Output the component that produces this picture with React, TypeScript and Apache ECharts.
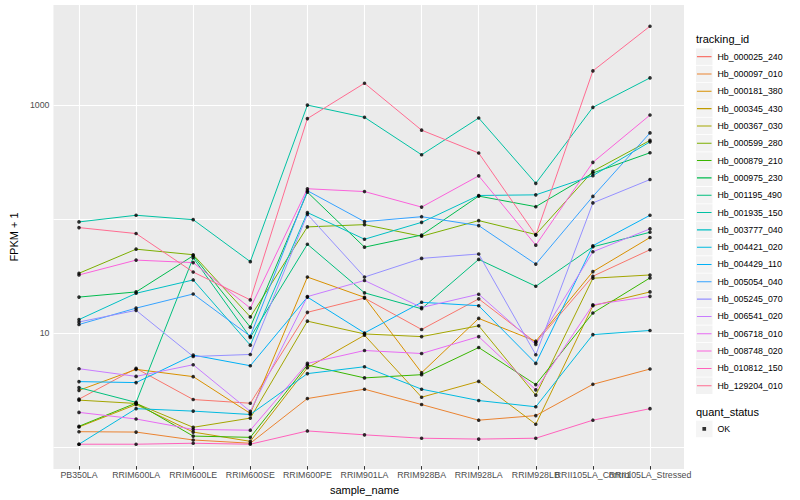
import React, { useEffect, useRef } from 'react';
import * as echarts from 'echarts';

const categories = [
  'PB350LA', 'RRIM600LA', 'RRIM600LE', 'RRIM600SE', 'RRIM600PE', 'RRIM901LA',
  'RRIM928BA', 'RRIM928LA', 'RRIM928LB', 'RRII105LA_Control', 'RRII105LA_Stressed',
];

const seriesIds = [
  'Hb_000025_240', 'Hb_000097_010', 'Hb_000181_380', 'Hb_000345_430', 'Hb_000367_030',
  'Hb_000599_280', 'Hb_000879_210', 'Hb_000975_230', 'Hb_001195_490', 'Hb_001935_150',
  'Hb_003777_040', 'Hb_004421_020', 'Hb_004429_110', 'Hb_005054_040', 'Hb_005245_070',
  'Hb_006541_020', 'Hb_006718_010', 'Hb_008748_020', 'Hb_010812_150', 'Hb_129204_010',
];

const palette = [
  '#F8766D', '#EA8331', '#D89000', '#C09B00', '#A3A500',
  '#7CAE00', '#39B600', '#00BB4E', '#00BF7D', '#00C1A3',
  '#00BFC4', '#00BAE0', '#00B0F6', '#35A2FF', '#9590FF',
  '#C77CFF', '#E76BF3', '#FA62DB', '#FF62BC', '#FF6C91',
];

// FPKM + 1 values, one array per tracking_id, in category order
const hb_000025_240 = [2.5, 4.67, 2.48, 2.3, 14.6, 19.5, 10.3, 19.2, 7.9, 30.4, 52.1];
const hb_000097_010 = [1.29, 1.28, 1.09, 1.02, 2.53, 3.06, 2.24, 1.63, 1.79, 3.38, 4.61];
const hb_000181_380 = [2.99, 4.58, 3.95, 1.87, 29.9, 19.8, 4.28, 12.9, 8.12, 33.4, 66.8];
const hb_000345_430 = [1.42, 2.24, 1.28, 1.06, 4.73, 9.17, 2.6, 3.59, 1.5, 16.7, 22.1];
const hb_000367_030 = [2.45, 2.29, 1.41, 1.7, 12.2, 9.41, 8.91, 11.1, 2.71, 29.2, 31.2];
const hb_000599_280 = [32.3, 52.7, 47.1, 13.3, 82.9, 86.8, 68.5, 94.2, 71.0, 257, 481];
const hb_000879_210 = [1.44, 2.31, 1.18, 1.15, 5.0, 3.85, 4.11, 7.14, 3.36, 14.4, 29.4];
const hb_000975_230 = [19.9, 22.1, 46.1, 10.8, 168, 54.9, 70.2, 155, 125, 248, 374];
const hb_001195_490 = [3.16, 2.34, 44.3, 8.77, 58.3, 21.7, 15.7, 42.8, 24.8, 55.3, 74.3];
const hb_001935_150 = [91.7, 105, 96.0, 40.9, 986, 769, 359, 758, 201, 942, 1714];
const hb_003777_040 = [12.6, 21.5, 28.2, 7.49, 111, 64.5, 90.9, 157, 159, 235, 467];
const hb_004421_020 = [1.0, 2.06, 1.96, 1.83, 4.2, 4.83, 3.06, 2.43, 2.14, 9.28, 10.1];
const hb_004429_110 = [3.57, 3.5, 6.12, 4.93, 19.9, 9.6, 17.9, 16.7, 5.17, 56.5, 105];
const hb_005054_040 = [11.4, 15.9, 21.2, 8.98, 173, 92.2, 102, 85.1, 38.9, 154, 560];
const hb_005245_070 = [12.0, 15.2, 5.95, 6.2, 107, 29.9, 43.7, 47.8, 6.16, 135, 217];
const hb_006541_020 = [4.64, 3.97, 5.03, 1.95, 20.1, 27.9, 16.1, 21.1, 7.59, 50.0, 79.6];
const hb_006718_010 = [1.91, 1.67, 1.35, 1.33, 5.17, 6.72, 6.32, 8.91, 3.02, 17.0, 20.2];
const hb_008748_020 = [31.2, 42.2, 40.1, 15.9, 180, 170, 124, 234, 57.2, 308, 805];
const hb_010812_150 = [1.0, 1.0, 1.02, 1.0, 1.31, 1.21, 1.13, 1.11, 1.13, 1.63, 2.06];
const hb_129204_010 = [81.7, 72.4, 33.1, 18.8, 749, 1538, 592, 372, 70.2, 1976, 4900];

const seriesValues = [
  hb_000025_240, hb_000097_010, hb_000181_380, hb_000345_430, hb_000367_030,
  hb_000599_280, hb_000879_210, hb_000975_230, hb_001195_490, hb_001935_150,
  hb_003777_040, hb_004421_020, hb_004429_110, hb_005054_040, hb_005245_070,
  hb_006541_020, hb_006718_010, hb_008748_020, hb_010812_150, hb_129204_010,
];

const yTickLabels = [10, 1000];
const yMin = 0.641;
const yMax = 7540;

const FONT = '"Liberation Sans", Arial, Helvetica, sans-serif';

export default function App() {
  const ref = useRef<HTMLDivElement>(null);

  useEffect(() => {
    if (!ref.current) return;
    const chart = echarts.init(ref.current, null, { renderer: 'svg' });

    const lineIcon =
      'path://M0,0h0.01v0.01h-0.01Z M1,7.95h15v1.1h-15Z M16.99,16.99h0.01v0.01h-0.01Z';
    const dotIcon =
      'path://M0,0h0.01v0.01h-0.01Z M6.6,6.6h3.8v3.8h-3.8Z M16.99,16.99h0.01v0.01h-0.01Z';

    const lineSeries = seriesIds.map((id, k) => ({
      name: id,
      type: 'line',
      xAxisIndex: 0,
      yAxisIndex: 0,
      data: seriesValues[k],
      showSymbol: false,
      symbol: 'none',
      lineStyle: { color: palette[k], width: 1 },
      itemStyle: { color: palette[k] },
      silent: true,
      z: 2,
    }));

    const pointData: number[][] = [];
    seriesValues.forEach((vals) => vals.forEach((v, i) => pointData.push([i, v])));

    const keyCommon = {
      orient: 'vertical',
      left: 696,
      padding: 0,
      itemWidth: 16.5,
      itemHeight: 16.5,
      itemGap: 0.82,
      selectedMode: false,
      textStyle: { fontSize: 8.8, color: '#000', fontFamily: FONT },
    };

    const option = {
      animation: false,
      backgroundColor: '#ffffff',
      textStyle: { fontFamily: FONT },
      title: [
        {
          text: 'tracking_id', left: 696, top: 33, padding: 0,
          textStyle: { fontSize: 11, fontWeight: 'normal', color: '#000', fontFamily: FONT },
        },
        {
          text: 'quant_status', left: 696, top: 406, padding: 0,
          textStyle: { fontSize: 11, fontWeight: 'normal', color: '#000', fontFamily: FONT },
        },
      ],
      grid: [
        { left: 79, right: 150, top: 5, bottom: 31, show: false },
        {
          left: 45, right: 116, top: 5, bottom: 31, show: true,
          backgroundColor: '#EBEBEB', borderWidth: 0,
        },
      ],
      xAxis: [
        {
          type: 'category',
          gridIndex: 0,
          data: categories,
          boundaryGap: false,
          axisLine: { show: false },
          axisTick: { show: true, interval: 0, length: 3.5, lineStyle: { color: '#333333', width: 1 } },
          axisLabel: { interval: 0, color: '#4D4D4D', fontSize: 8.8, margin: 4, hideOverlap: false, fontFamily: FONT },
          splitLine: { show: true, interval: 0, lineStyle: { color: '#ffffff', width: 1.1 } },
          name: 'sample_name',
          nameLocation: 'middle',
          nameGap: 14,
          nameTextStyle: { fontSize: 11, color: '#000', fontFamily: FONT },
          z: 1,
        },
        { type: 'value', gridIndex: 1, show: false },
      ],
      yAxis: [
        { type: 'log', gridIndex: 0, min: yMin, max: yMax, show: false },
        {
          type: 'log',
          gridIndex: 1,
          min: yMin,
          max: yMax,
          axisLine: { show: false },
          axisTick: { show: false },
          axisLabel: {
            color: '#4D4D4D',
            fontSize: 8.8,
            margin: 4,
            fontFamily: FONT,
            showMinLabel: false,
            showMaxLabel: false,
            formatter: (v: number) => {
              const hit = yTickLabels.find((t) => Math.abs(Math.log10(v) - Math.log10(t)) < 1e-6);
              return hit !== undefined ? String(hit) : '';
            },
          },
          splitLine: {
            show: true,
            showMinLine: false,
            showMaxLine: false,
            lineStyle: { color: '#ffffff', width: 1.1 },
          },
          name: 'FPKM + 1',
          nameLocation: 'middle',
          nameGap: 27,
          nameRotate: 90,
          nameTextStyle: { fontSize: 11, color: '#000', fontFamily: FONT },
          z: 1,
        },
      ],
      legend: [
        {
          ...keyCommon, top: 48.4, data: seriesIds, icon: 'rect',
          itemStyle: { color: '#F2F2F2', borderWidth: 0 }, z: 3,
        },
        {
          ...keyCommon, top: 48.4, data: seriesIds, icon: lineIcon,
          itemStyle: { borderWidth: 0 }, formatter: () => '', z: 4,
        },
        {
          ...keyCommon, top: 420.7, data: ['OK'], icon: 'rect',
          itemStyle: { color: '#F2F2F2', borderWidth: 0 }, z: 3,
        },
        {
          ...keyCommon, top: 420.7, data: ['OK'], icon: dotIcon,
          itemStyle: { borderWidth: 0 }, formatter: () => '', z: 4,
        },
      ],
      series: [
        ...lineSeries,
        {
          name: 'OK',
          type: 'scatter',
          xAxisIndex: 0,
          yAxisIndex: 0,
          data: pointData,
          symbol: 'circle',
          symbolSize: 3.6,
          itemStyle: { color: '#000000' },
          silent: true,
          z: 3,
        },
      ],
    };

    chart.setOption(option as any);
    return () => chart.dispose();
  }, []);

  return (
    <div
      ref={ref}
      style={{ position: 'absolute', left: 0, top: 0, width: 800, height: 500, background: '#fff' }}
    />
  );
}
